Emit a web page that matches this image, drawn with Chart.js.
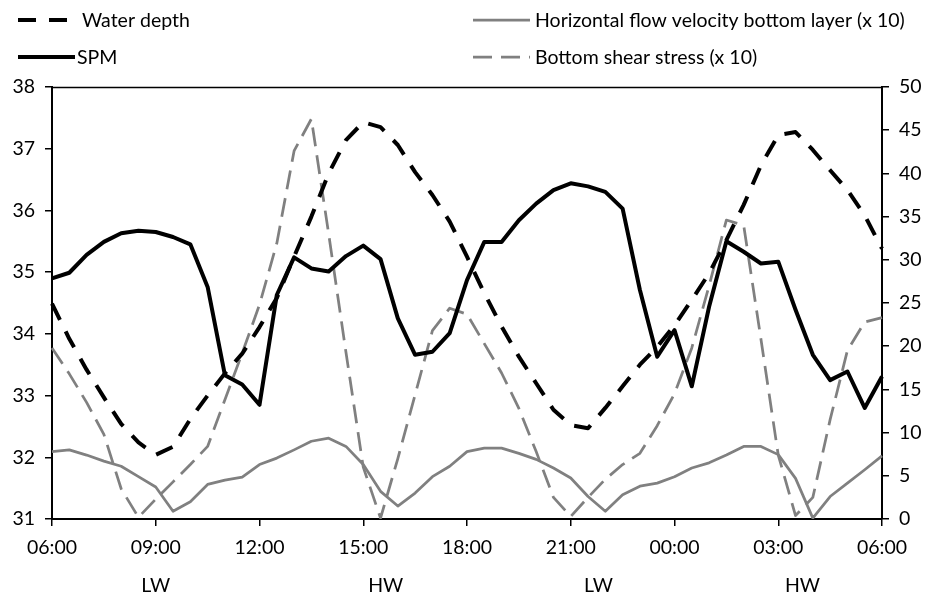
<!DOCTYPE html>
<html>
<head>
<meta charset="utf-8">
<script src="https://cdn.jsdelivr.net/npm/chart.js@4.4.1/dist/chart.umd.min.js"></script>
<style>
html,body{margin:0;padding:0;background:#ffffff;}
#wrap{position:relative;width:928px;height:597px;}
</style>
</head>
<body>
<div id="wrap"><canvas id="c" width="928" height="597"></canvas></div>
<script>
// ---- data (half-hourly, 06:00 -> 06:00 next day) ----
const timeLabels = [
  "06:00","06:30","07:00","07:30","08:00","08:30","09:00","09:30","10:00","10:30",
  "11:00","11:30","12:00","12:30","13:00","13:30","14:00","14:30","15:00","15:30",
  "16:00","16:30","17:00","17:30","18:00","18:30","19:00","19:30","20:00","20:30",
  "21:00","21:30","22:00","22:30","23:00","23:30","00:00","00:30","01:00","01:30",
  "02:00","02:30","03:00","03:30","04:00","04:30","05:00","05:30","06:00"
];
const waterDepth = [
  34.49,33.92,33.42,32.97,32.54,32.24,32.04,32.17,32.62,33.00,
  33.36,33.68,34.11,34.58,35.25,35.90,36.60,37.14,37.43,37.35,
  37.06,36.62,36.25,35.82,35.25,34.66,34.12,33.63,33.20,32.77,
  32.52,32.47,32.80,33.15,33.50,33.79,34.14,34.55,34.98,35.52,
  36.09,36.73,37.22,37.27,36.98,36.65,36.33,35.92,35.38
];
const spm = [
  34.90,34.99,35.28,35.49,35.63,35.67,35.65,35.57,35.45,34.76,
  33.33,33.18,32.85,34.63,35.24,35.06,35.01,35.26,35.43,35.21,
  34.25,33.66,33.71,34.01,34.87,35.49,35.49,35.84,36.11,36.33,
  36.44,36.39,36.30,36.03,34.71,33.63,34.06,33.15,34.44,35.50,
  35.33,35.14,35.17,34.39,33.66,33.25,33.39,32.80,33.31
];
const flowVelocity = [
  7.8,8.0,7.4,6.7,6.1,4.9,3.7,0.9,2.0,4.0,
  4.5,4.85,6.3,7.05,8.0,9.0,9.35,8.4,6.3,3.2,
  1.5,3.0,4.9,6.1,7.8,8.2,8.2,7.6,6.9,5.9,
  4.75,2.6,0.9,2.8,3.8,4.15,4.9,5.9,6.5,7.4,
  8.4,8.4,7.45,4.7,0.1,2.6,4.15,5.7,7.3
];
const shearStress = [
  19.8,16.8,13.5,9.8,3.5,0.2,2.3,4.3,6.3,8.4,
  13.8,19.2,24.8,31.9,42.6,46.3,33.0,19.3,6.0,0.1,
  7.0,14.4,21.8,24.4,23.7,20.3,16.9,12.8,7.8,2.5,
  0.3,2.5,4.6,6.3,7.6,10.8,14.5,19.8,27.0,34.6,
  34.0,20.8,7.4,0.4,2.5,11.5,19.5,22.8,23.3
];
const seriesNames = ["Water depth","SPM","Horizontal flow velocity bottom layer (x 10)","Bottom shear stress (x 10)"];
const tideLabels = ["LW","HW","LW","HW"];
const tidePositions = [6.0, 19.3, 31.6, 43.4]; // in half-hour index units along the time axis

// ---- styles ----
const FONT = "Lato";
const FS = 19.5;
const GREY = "#808080";
const styles = [
  {color:"#000000", width:4, dash:[18,13]},
  {color:"#000000", width:4, dash:[]},
  {color:GREY, width:2.75, dash:[]},
  {color:GREY, width:2.75, dash:[19,9]}
];

const legendItems = [
  {ds:0, x1:18, x2:71, y:20, tx:82},
  {ds:1, x1:18, x2:75, y:57, tx:77},
  {ds:2, x1:473, x2:530, y:20, tx:535},
  {ds:3, x1:473, x2:530, y:57, tx:535}
];

const extras = {
  id:"extras",
  afterDraw(chart){
    const ctx = chart.ctx, a = chart.chartArea;
    ctx.save();
    // top border of plot area
    ctx.strokeStyle = "#000"; ctx.lineWidth = 1.5; ctx.setLineDash([]);
    ctx.beginPath(); ctx.moveTo(a.left, a.top + 0.5); ctx.lineTo(a.right, a.top + 0.5); ctx.stroke();
    // legend
    ctx.font = FS + "px " + FONT;
    ctx.fillStyle = "#000";
    ctx.textBaseline = "middle";
    ctx.textAlign = "left";
    legendItems.forEach(it => {
      const s = styles[it.ds];
      ctx.strokeStyle = s.color; ctx.lineWidth = s.width;
      ctx.setLineDash(s.dash.length ? s.dash : []);
      ctx.lineCap = "butt";
      ctx.beginPath(); ctx.moveTo(it.x1, it.y); ctx.lineTo(it.x2, it.y); ctx.stroke();
      ctx.setLineDash([]);
      ctx.fillText(seriesNames[it.ds], it.tx, it.y + 1);
    });
    // LW / HW labels under the axis
    const xs = chart.scales.x;
    ctx.textAlign = "center";
    tideLabels.forEach((t, i) => {
      ctx.fillText(t, xs.getPixelForValue(tidePositions[i]), a.bottom + 67);
    });
    ctx.restore();
  }
};

function mk(i, data, axis){
  const s = styles[i];
  return {
    label: seriesNames[i], data: data, yAxisID: axis,
    borderColor: s.color, backgroundColor: s.color, borderWidth: s.width,
    borderDash: s.dash, borderCapStyle: "butt", borderJoinStyle: "round",
    pointRadius: 0, pointHoverRadius: 0, tension: 0, fill: false
  };
}

new Chart(document.getElementById("c"), {
  type: "line",
  data: {
    labels: timeLabels,
    datasets: [
      mk(0, waterDepth, "y"),
      mk(1, spm, "y"),
      mk(2, flowVelocity, "y1"),
      mk(3, shearStress, "y1")
    ]
  },
  plugins: [extras],
  options: {
    responsive: false,
    animation: false,
    devicePixelRatio: 1,
    layout: {padding: {top: 87, left: 0, right: 0, bottom: 0}},
    plugins: {legend: {display: false}, tooltip: {enabled: false}},
    scales: {
      x: {
        type: "category",
        offset: false,
        grid: {display: true, drawOnChartArea: false, drawTicks: true, tickLength: 7, color: "#000", lineWidth: 1.5},
        border: {display: true, color: "#000", width: 2},
        ticks: {
          autoSkip: false, maxRotation: 0, minRotation: 0, padding: 10,
          color: "#000", font: {family: FONT, size: FS},
          callback: function(v, i){ return i % 6 === 0 ? timeLabels[i] : null; }
        },
        afterFit(s){ s.height = 78; }
      },
      y: {
        position: "left", min: 31, max: 38,
        grid: {display: true, drawOnChartArea: false, drawTicks: true, tickLength: 7, color: "#000", lineWidth: 1.5},
        border: {display: true, color: "#000", width: 2},
        ticks: {stepSize: 1, padding: 10, color: "#000", font: {family: FONT, size: FS}},
        afterFit(s){ s.width = 52; }
      },
      y1: {
        position: "right", min: 0, max: 50,
        grid: {display: true, drawOnChartArea: false, drawTicks: true, tickLength: 7, color: "#000", lineWidth: 1.5},
        border: {display: true, color: "#000", width: 2},
        ticks: {stepSize: 5, padding: 10, color: "#000", font: {family: FONT, size: FS}},
        afterFit(s){ s.width = 46; }
      }
    }
  }
});
</script>
</body>
</html>
